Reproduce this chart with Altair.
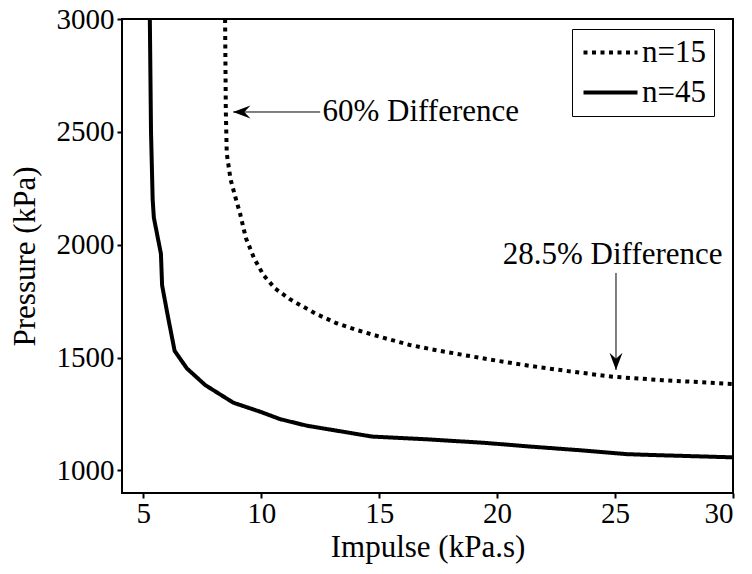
import altair as alt
import pandas as pd

# ---- data ----
series_labels = ["n=15", "n=45"]

x_n15 = [8.47, 8.50, 8.54, 8.70, 8.90, 9.10, 9.35, 9.70, 10.1, 10.6, 11.2, 11.65,
         12.36, 13.2, 14.05, 15.2, 16.3, 17.2, 18.6, 20.0, 21.4, 23.0, 24.9, 27.0, 30.0]
y_n15 = [3000, 2600, 2405, 2290, 2213, 2140, 2030, 1940, 1865, 1805, 1760, 1733,
         1692, 1652, 1622, 1587, 1556, 1537, 1511, 1486, 1463, 1440, 1415, 1400, 1383]

x_n45 = [5.28, 5.33, 5.40, 5.45, 5.75, 5.80, 6.05, 6.33, 6.85, 7.63, 8.82, 9.96,
         10.81, 11.94, 13.21, 14.7, 17.0, 19.5, 21.5, 23.7, 25.5, 27.0, 30.0]
y_n45 = [3000, 2500, 2200, 2120, 1960, 1820, 1680, 1530, 1452, 1378, 1300, 1260,
         1227, 1198, 1176, 1150, 1138, 1122, 1105, 1088, 1072, 1067, 1058]

x_ticks = [5, 10, 15, 20, 25, 30]
y_ticks = [1000, 1500, 2000, 2500, 3000]
x_domain = [4.1, 30]
y_domain = [900, 3000]

ann_text = ["60% Difference", "28.5% Difference"]
ann_x = [12.6, 24.9]
ann_y = [2588, 1954]
ann_align = ["left", "center"]

arrow_tail_x = [12.5, 25.04]
arrow_tail_y = [2588, 1875]
arrow_tip_x = [8.81, 25.04]
arrow_tip_y = [2588, 1445]
arrow_dir = ["left", "down"]

# ---- layout ----
W, H = 611, 474

# ---- tables ----
lines_df = pd.DataFrame({
    "x": x_n15 + x_n45,
    "y": y_n15 + y_n45,
    "series": [series_labels[0]] * len(x_n15) + [series_labels[1]] * len(x_n45),
    "order": list(range(len(x_n15))) + list(range(len(x_n45))),
})
ann_df = pd.DataFrame({"text": ann_text, "x": ann_x, "y": ann_y, "align": ann_align})
arrow_df = pd.DataFrame({
    "x1": arrow_tail_x, "y1": arrow_tail_y,
    "x2": arrow_tip_x, "y2": arrow_tip_y, "dir": arrow_dir,
})

FONT = "Liberation Serif"
xs = alt.Scale(domain=x_domain, nice=False, zero=False)
ys = alt.Scale(domain=y_domain, nice=False, zero=False)

ax_common = dict(ticks=True, tickSize=5, tickWidth=2, tickColor="black",
                 domain=False, grid=False,
                 labelFont=FONT, labelFontSize=29, labelColor="black",
                 titleFont=FONT, titleFontSize=31, titleColor="black",
                 titleFontWeight="normal")

x_axis = alt.Axis(values=x_ticks, title="Impulse (kPa.s)",
                  labelPadding=1, titlePadding=4, **ax_common)
y_axis = alt.Axis(values=y_ticks, title="Pressure (kPa)", format="d",
                  labelPadding=3, titlePadding=15, **ax_common)


def X(field):
    return alt.X(field, scale=xs, axis=x_axis)


def Y(field):
    return alt.Y(field, scale=ys, axis=y_axis)


lines = alt.Chart(lines_df).mark_line(color="black", strokeWidth=4).encode(
    x=X("x:Q"),
    y=Y("y:Q"),
    strokeDash=alt.StrokeDash(
        "series:N",
        scale=alt.Scale(domain=series_labels, range=[[4, 4.5], [1, 0]]),
        legend=alt.Legend(
            orient="none", legendX=450, legendY=10, title=None,
            strokeColor="black", fillColor="white", padding=8,
            symbolType="M0,0L4,0", symbolSize=729, symbolOffset=-12,
            symbolStrokeWidth=4, symbolStrokeColor="black",
            labelFont=FONT, labelFontSize=31, labelColor="black",
            rowPadding=8, labelOffset=43,
        ),
    ),
    order="order:Q",
)

arrow_lines = alt.Chart(arrow_df).mark_rule(color="black", strokeWidth=1).encode(
    x=X("x1:Q"), y=Y("y1:Q"), x2="x2:Q", y2="y2:Q",
)

head_left = "M0,0 L2,-0.75 L1.3,0 L2,0.75 Z"
head_down = "M0,0 L-0.75,-2 L0,-1.3 L0.75,-2 Z"

heads = alt.Chart(arrow_df).mark_point(filled=True, color="black", opacity=1, size=300).encode(
    x=X("x2:Q"),
    y=Y("y2:Q"),
    shape=alt.Shape("dir:N", scale=alt.Scale(domain=["left", "down"],
                                             range=[head_left, head_down]), legend=None),
)

texts_left = alt.Chart(ann_df).transform_filter("datum.align == 'left'").mark_text(
    font=FONT, fontSize=31, align="left", baseline="middle", color="black"
).encode(x=X("x:Q"), y=Y("y:Q"), text="text:N")
texts_center = alt.Chart(ann_df).transform_filter("datum.align == 'center'").mark_text(
    font=FONT, fontSize=31, align="center", baseline="middle", color="black"
).encode(x=X("x:Q"), y=Y("y:Q"), text="text:N")

chart = alt.layer(
    lines, arrow_lines, heads, texts_left, texts_center
).properties(
    width=W, height=H,
    autosize=alt.AutoSizeParams(type="none"),
    padding={"left": 122, "top": 19, "right": 19, "bottom": 81},
    background="white",
).configure_view(stroke="black", strokeWidth=2)

chart.save("out.html", embed_options={"renderer": "svg", "actions": False})
